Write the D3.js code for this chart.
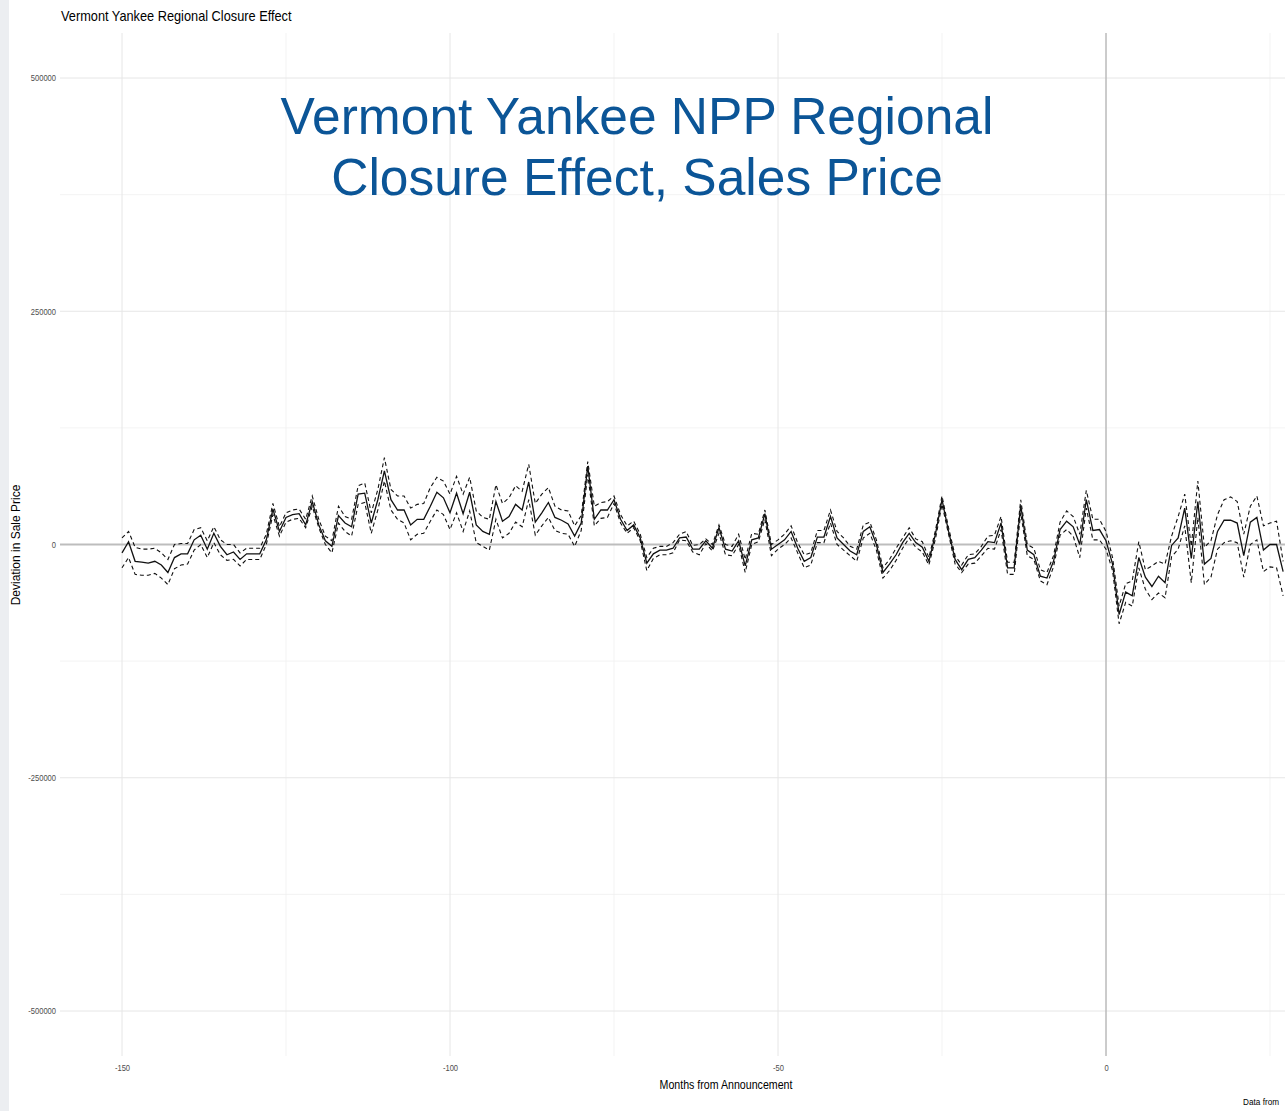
<!DOCTYPE html>
<html>
<head>
<meta charset="utf-8">
<script src="https://cdn.jsdelivr.net/npm/d3@7"></script>
<style>
  body { margin: 0; background: #fff; }
  svg { display: block; }
</style>
</head>
<body>
<div id="chart"></div>
<script>
// months from announcement: first observation, one point per month after that
var firstMonth = -150;

// estimated deviation in sale price, thousands of dollars
var estimate = [
  -9, 3, -18, -19, -20, -18, -22, -30, -14, -10,
  -10, 5, 10, -5, 12, -2, -11, -8, -16, -10,
  -10, -10, 5, 38, 14, 29, 32, 33, 21, 46,
  21, 4, -2, 31, 23, 19, 54, 55, 23, 48,
  79, 48, 37, 37, 21, 27, 27, 41, 56, 50,
  34, 55, 33, 56, 21, 14, 11, 46, 25, 30,
  43, 37, 67, 24, 34, 45, 29, 26, 22, 9,
  23, 84, 27, 37, 37, 48, 27, 15, 21, 7,
  -20, -10, -6, -6, -4, 7, 8, -5, -5, 4,
  -4, 18, -5, -7, 4, -23, 5, 7, 33, -5,
  0, 5, 14, -4, -18, -14, 8, 8, 30, 7,
  0, -7, -11, 14, 19, 0, -30, -21, -11, 2,
  12, 2, -3, -18, 11, 48, 14, -16, -27, -16,
  -14, -6, 3, 2, 23, -25, -25, 42, -6, -11,
  -34, -36, -18, 16, 25, 19, 0, 48, 15, 16,
  4, -21, -75, -51, -55, -14, -35, -45, -34, -41,
  -1, 7, 39, -15, 46, -21, -15, 14, 26, 26,
  23, -12, 24, 29, -6, 0, 0, -29
];

// upper confidence bound, thousands
var upper = [
  7, 14, -3, -5, -5, -4, -9, -16, 0, 1,
  1, 16, 18, 4, 19, 5, 0, 0, -9, -4,
  -4, -4, 11, 44, 19, 34, 37, 38, 27, 52,
  27, 9, 4, 41, 30, 27, 63, 66, 34, 59,
  93, 59, 52, 52, 39, 43, 44, 61, 72, 68,
  54, 73, 54, 72, 36, 29, 27, 64, 44, 50,
  63, 57, 86, 44, 54, 61, 41, 37, 36, 20,
  31, 89, 41, 45, 46, 52, 32, 20, 25, 11,
  -14, -4, -2, -2, 2, 11, 14, -1, 0, 6,
  0, 21, 0, -2, 11, -16, 12, 11, 37, 0,
  5, 11, 20, 2, -11, -9, 15, 15, 37, 14,
  7, -2, -5, 21, 24, 5, -25, -16, -4, 7,
  18, 6, 3, -14, 15, 52, 18, -12, -22, -11,
  -10, -2, 9, 10, 30, -19, -19, 48, 0, -4,
  -27, -30, -12, 24, 36, 30, 11, 58, 27, 27,
  14, -14, -66, -42, -39, 3, -27, -23, -18, -21,
  9, 30, 54, -2, 68, -3, 4, 32, 48, 51,
  46, 11, 41, 52, 20, 23, 25, -18
];

// lower confidence bound, thousands
var lower = [
  -25, -14, -32, -33, -33, -31, -36, -43, -26, -22,
  -21, -6, 0, -14, 2, -11, -17, -16, -23, -16,
  -16, -16, 0, 32, 9, 24, 27, 28, 18, 41,
  18, 0, -9, 23, 14, 9, 43, 45, 12, 37,
  68, 37, 27, 23, 5, 11, 12, 25, 37, 32,
  16, 34, 14, 36, 2, -2, -6, 27, 7, 12,
  24, 19, 48, 10, 20, 29, 15, 12, 11, -2,
  15, 75, 20, 28, 29, 44, 23, 12, 18, 4,
  -28, -15, -11, -11, -9, 5, 4, -8, -11, 1,
  -7, 12, -11, -12, 0, -30, 0, 3, 27, -12,
  -5, 0, 7, -9, -25, -22, 2, 2, 23, 0,
  -6, -12, -18, 7, 12, -6, -36, -28, -17, -4,
  7, -3, -8, -22, 6, 43, 11, -21, -30, -21,
  -20, -12, -4, -5, 16, -32, -32, 34, -12, -16,
  -39, -43, -24, 10, 16, 9, -14, 39, 5, 5,
  -5, -28, -85, -62, -66, -25, -48, -59, -52, -57,
  -13, -5, 20, -41, 29, -43, -35, -5, 2, 4,
  2, -35, 0, 5, -29, -24, -25, -55
];

var xMajor = [-150, -100, -50, 0];
var xMinor = [-125, -75, -25, 25];
var yMajor = [-500000, -250000, 0, 250000, 500000];
var yMinor = [-375000, -125000, 125000, 375000];

var plotTitle = 'Vermont Yankee Regional Closure Effect';
var slideTitle = ['Vermont Yankee NPP Regional', 'Closure Effect, Sales Price'];
var xTitle = 'Months from Announcement';
var yTitle = 'Deviation in Sale Price';
var caption = 'Data from';

var W = 1285, H = 1111;
var panel = {left: 60, right: 1290, top: 33, bottom: 1056};
var sans = '"Liberation Sans", Arial, sans-serif';

var svg = d3.select('#chart').append('svg')
    .attr('width', W)
    .attr('height', H);

svg.append('rect').attr('width', W).attr('height', H).attr('fill', '#fff');
// faded slide background peeking in at the left edge
svg.append('rect').attr('x', 0).attr('y', 0).attr('width', 9).attr('height', H).attr('fill', '#eceef1');

var x = d3.scaleLinear().domain([-150, 0]).range([122, 1106]);
var y = d3.scaleLinear().domain([-500000, 500000]).range([1011, 78]);

var rows = estimate.map(function (v, i) {
    return {month: firstMonth + i, est: v * 1000, hi: upper[i] * 1000, lo: lower[i] * 1000};
});

// no narrow font installed, so squeeze the ggplot texts by hand
function condense(sel, k) {
    sel.each(function () {
        var w = this.getComputedTextLength();
        d3.select(this)
            .attr('textLength', w * k)
            .attr('lengthAdjust', 'spacingAndGlyphs');
    });
}

svg.append('defs').append('clipPath').attr('id', 'panel-clip')
  .append('rect')
    .attr('x', panel.left).attr('y', panel.top)
    .attr('width', panel.right - panel.left).attr('height', panel.bottom - panel.top);

// grid
var grid = svg.append('g');
grid.selectAll('.ymin').data(yMinor).enter().append('line')
    .attr('x1', panel.left).attr('x2', panel.right)
    .attr('y1', d => y(d)).attr('y2', d => y(d))
    .attr('stroke', '#f0f0f0').attr('stroke-width', 0.8);
grid.selectAll('.xmin').data(xMinor).enter().append('line')
    .attr('y1', panel.top).attr('y2', panel.bottom)
    .attr('x1', d => x(d)).attr('x2', d => x(d))
    .attr('stroke', '#f0f0f0').attr('stroke-width', 0.8);
grid.selectAll('.ymaj').data(yMajor).enter().append('line')
    .attr('x1', panel.left).attr('x2', panel.right)
    .attr('y1', d => y(d)).attr('y2', d => y(d))
    .attr('stroke', '#e6e6e6').attr('stroke-width', 1);
grid.selectAll('.xmaj').data(xMajor).enter().append('line')
    .attr('y1', panel.top).attr('y2', panel.bottom)
    .attr('x1', d => x(d)).attr('x2', d => x(d))
    .attr('stroke', '#e6e6e6').attr('stroke-width', 1);

// reference lines
svg.append('line')
    .attr('x1', panel.left).attr('x2', panel.right)
    .attr('y1', y(0)).attr('y2', y(0))
    .attr('stroke', '#bdbdbd').attr('stroke-width', 2);
svg.append('line')
    .attr('x1', x(0)).attr('x2', x(0))
    .attr('y1', panel.top).attr('y2', panel.bottom)
    .attr('stroke', '#ababab').attr('stroke-width', 1.1);

// series
var g = svg.append('g').attr('clip-path', 'url(#panel-clip)');
function lineFor(key) {
    return d3.line().x(d => x(d.month)).y(d => y(d[key]));
}
g.append('path').datum(rows).attr('d', lineFor('hi'))
    .attr('fill', 'none').attr('stroke', '#111').attr('stroke-width', 1.1)
    .attr('stroke-dasharray', '4,3');
g.append('path').datum(rows).attr('d', lineFor('lo'))
    .attr('fill', 'none').attr('stroke', '#111').attr('stroke-width', 1.1)
    .attr('stroke-dasharray', '4,3');
g.append('path').datum(rows).attr('d', lineFor('est'))
    .attr('fill', 'none').attr('stroke', '#111').attr('stroke-width', 1.3);

// axes (text only, theme_minimal style)
var plain = d => String(d);

var yAxis = d3.axisLeft(y).tickValues(yMajor).tickFormat(plain).tickSize(0).tickPadding(0);
svg.append('g')
    .attr('transform', 'translate(56,0)')
    .call(yAxis)
    .call(a => a.select('.domain').remove())
    .selectAll('text')
    .attr('fill', '#4d4d4d')
    .style('font-family', sans)
    .style('font-size', '9px')
    .call(condense, 0.84);

var xAxis = d3.axisBottom(x).tickValues(xMajor).tickFormat(plain).tickSize(0).tickPadding(0);
svg.append('g')
    .attr('transform', 'translate(0,1065)')
    .call(xAxis)
    .call(a => a.select('.domain').remove())
    .selectAll('text')
    .attr('fill', '#4d4d4d')
    .style('font-family', sans)
    .style('font-size', '9px')
    .call(condense, 0.84);

// titles
svg.append('text')
    .attr('x', 61).attr('y', 21)
    .style('font-family', sans).style('font-size', '14.5px')
    .attr('fill', '#000')
    .text(plotTitle)
    .call(condense, 0.88);

svg.append('text')
    .attr('x', 726).attr('y', 1089)
    .attr('text-anchor', 'middle')
    .style('font-family', sans).style('font-size', '12.5px')
    .attr('fill', '#000')
    .text(xTitle)
    .call(condense, 0.85);

svg.append('text')
    .attr('transform', 'translate(20,545) rotate(-90)')
    .attr('text-anchor', 'middle')
    .style('font-family', sans).style('font-size', '12px')
    .attr('fill', '#000')
    .text(yTitle);

svg.append('text')
    .attr('x', 1279).attr('y', 1105)
    .attr('text-anchor', 'end')
    .style('font-family', sans).style('font-size', '9.5px')
    .attr('fill', '#000')
    .text(caption)
    .call(condense, 0.86);

svg.append('g').selectAll('text').data(slideTitle).enter().append('text')
    .attr('x', 637)
    .attr('y', (d, i) => 134 + i * 61)
    .attr('text-anchor', 'middle')
    .style('font-family', sans).style('font-size', '51.5px')
    .attr('fill', '#0b5597')
    .text(d => d);
</script>
</body>
</html>
